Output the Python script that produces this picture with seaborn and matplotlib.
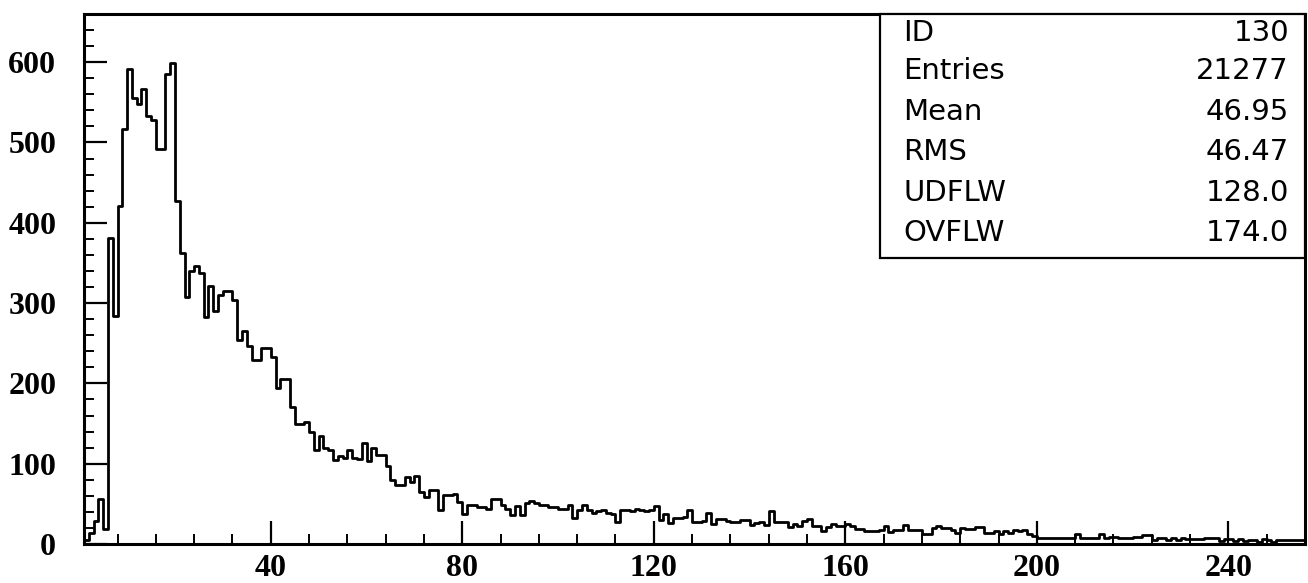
import numpy as np
import pandas as pd
import matplotlib
matplotlib.use("Agg")
import matplotlib.pyplot as plt
import seaborn as sns

# Bin contents, one entry per unit-wide channel starting at x = 1
counts_rise = [5, 14, 29, 56, 19, 381, 284, 421, 517, 592,
               556, 548, 567, 533, 528, 492, 492, 585, 599, 427,
               362, 308, 340, 346, 337, 283, 321, 290, 310, 315,
               315, 304, 254, 265, 246, 229, 229, 244, 244, 233]
counts_falloff = [194, 205, 205, 171, 150, 150, 152, 139, 117, 135,
                  120, 117, 105, 109, 107, 117, 107, 106, 126, 103,
                  120, 111, 111, 97, 80, 74, 74, 83, 77, 85,
                  65, 58, 67, 67, 42, 61, 61, 62, 52, 37, 48]
counts_mid = [49, 46, 46, 43, 56, 56, 49, 43, 36, 47,
              36, 51, 53, 51, 48, 48, 46, 46, 44, 44,
              48, 33, 42, 49, 42, 39, 41, 42, 38, 37,
              28, 42, 42, 41, 43, 42, 41, 42, 47]
counts_tail = [30, 37, 26, 32, 32, 34, 42, 27, 27, 29,
               38, 25, 31, 31, 29, 27, 27, 30, 30, 24,
               26, 28, 24, 41, 28, 28, 28, 21, 25, 23,
               29, 31, 22, 22, 16, 21, 25, 23, 23, 25,
               23, 19, 19, 16, 16, 16, 17, 23, 15, 17,
               17, 24, 17, 17, 17, 12, 12, 20, 23, 20,
               20, 18, 14, 20, 19, 19, 21, 21, 14]
counts_end = [14, 16, 12, 16, 14, 17, 16, 18, 12, 10,
              8, 8, 8, 8, 8, 8, 8, 8, 12, 7,
              7, 8, 8, 12, 7, 9, 9, 7, 8, 8,
              9, 9, 11, 11, 5, 7, 7, 5, 8, 5,
              8, 6, 6, 6, 6, 7, 7, 7, 4, 6,
              6, 4, 6, 4, 5, 5, 3, 6, 5, 3,
              5, 5, 5, 5, 5, 5]

x_range = (1, 256)
y_max = 660
x_major = [40, 80, 120, 160, 200, 240]
y_major = [0, 100, 200, 300, 400, 500, 600]

stat_names = ["ID", "Entries", "Mean", "RMS", "UDFLW", "OVFLW"]
stat_values = ["130", "21277", "46.95", "46.47", "128.0", "174.0"]

counts = np.array(counts_rise + counts_falloff + counts_mid + counts_tail + counts_end, dtype=float)
edges = [float(e) for e in np.arange(x_range[0], x_range[1] + 1)]
hist_df = pd.DataFrame({"channel": np.arange(x_range[0], x_range[1]) + 0.5,
                        "count": counts})

sns.set_style("white")
plt.rcParams["font.family"] = ["DejaVu Sans"]

fig = plt.figure(figsize=(13.08, 5.83), dpi=100)
ax = fig.add_axes([84 / 1308, 1 - 544 / 583, 1221 / 1308, 530 / 583])

sns.histplot(data=hist_df, x="channel", weights="count", bins=edges,
             element="step", fill=False, color="black", linewidth=2.0, ax=ax)

ax.set_xlim(*x_range)
ax.set_ylim(0, y_max)
ax.set_xlabel("")
ax.set_ylabel("")

for side in ["left", "bottom", "top", "right"]:
    ax.spines[side].set_color("black")
    ax.spines[side].set_linewidth(2.2)

ax.set_xticks(x_major)
ax.set_xticks(np.arange(8, 256, 8), minor=True)
ax.set_yticks(y_major)
ax.set_yticks(np.arange(0, y_max, 20), minor=True)

tick_font = dict(family="Liberation Serif", weight="bold", size=23, color="black")
ax.set_xticklabels([str(v) for v in x_major], fontdict=tick_font)
ax.set_yticklabels([str(v) for v in y_major], fontdict=tick_font)
ax.tick_params(which="both", direction="in", color="black",
               bottom=True, left=True, top=False, right=False)
ax.tick_params(which="major", length=16.5, width=1.6)
ax.tick_params(which="minor", length=7.2, width=1.4)
ax.tick_params(axis="x", which="major", pad=7)
ax.tick_params(axis="y", which="major", pad=20)

# Statistics box in the upper-right corner
box_left = (880 - 84) / 1221
box_bottom = (544 - 258) / 530
ax.add_patch(plt.Rectangle((box_left, box_bottom), 1 - box_left, 1 - box_bottom,
                           transform=ax.transAxes, fill=True, facecolor="white",
                           edgecolor="black", linewidth=1.6, zorder=5, clip_on=False))
row_tops = [33, 71, 112, 152, 193, 233]
for name, val, y_px in zip(stat_names, stat_values, row_tops):
    yc = (544 - y_px) / 530
    ax.text((903 - 84) / 1221, yc, name, transform=ax.transAxes, ha="left",
            va="center", fontsize=21, family="DejaVu Sans", color="black", zorder=6)
    ax.text((1289 - 84) / 1221, yc, val, transform=ax.transAxes, ha="right",
            va="center", fontsize=21, family="DejaVu Sans", color="black", zorder=6)

fig.savefig("out.png", dpi=100, facecolor="white")
